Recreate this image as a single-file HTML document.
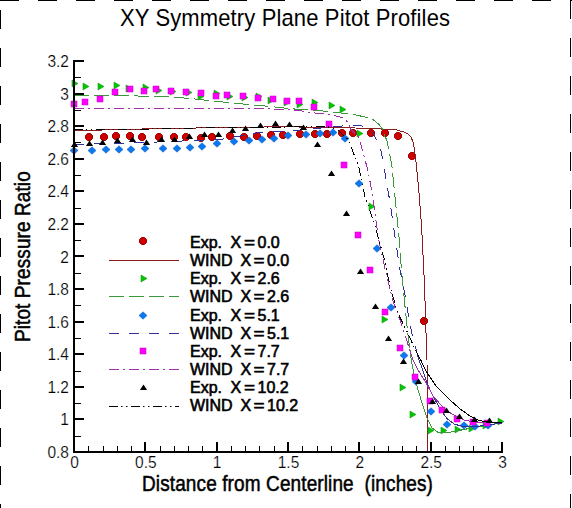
<!DOCTYPE html><html><head><meta charset="utf-8"><style>html,body{margin:0;padding:0;background:#fff;}svg{display:block;font-family:"Liberation Sans",sans-serif;}</style></head><body>
<svg width="572" height="508" viewBox="0 0 572 508">
<rect width="572" height="508" fill="#fff"/>
<g stroke="#000" stroke-width="1" fill="none">
<line x1="0" y1="0.5" x2="572" y2="0.5" stroke-dasharray="19 19"/>
<line x1="0.5" y1="10" x2="0.5" y2="508" stroke-dasharray="19 19"/>
<line x1="570.5" y1="0" x2="570.5" y2="508" stroke-dasharray="19 19"/>
</g>
<text transform="translate(120,26) scale(1,1.123)" font-size="22" letter-spacing="0.135" fill="#000">XY Symmetry Plane Pitot Profiles</text>
<text transform="translate(142,491) scale(1,1.148)" font-size="19" letter-spacing="0.12" fill="#000" stroke="#000" stroke-width="0.45" xml:space="preserve">Distance from Centerline  (inches)</text>
<text transform="translate(30,342) rotate(-90) scale(1,1.148)" font-size="19" letter-spacing="0.1" fill="#000" stroke="#000" stroke-width="0.45">Pitot Pressure Ratio</text>
<defs><clipPath id="pc"><rect x="73" y="55" width="432" height="397"/></clipPath></defs>
<polygon points="87.5,133.5 90.5,133.5 92.5,135.5 92.5,138.5 90.5,140.5 87.5,140.5 85.5,138.5 85.5,135.5" fill="#cd0000" stroke="#a00000" stroke-width="1"/>
<polygon points="102.5,133.5 105.5,133.5 107.5,135.5 107.5,138.5 105.5,140.5 102.5,140.5 100.5,138.5 100.5,135.5" fill="#cd0000" stroke="#a00000" stroke-width="1"/>
<polygon points="114.5,132.5 117.5,132.5 119.5,134.5 119.5,137.5 117.5,139.5 114.5,139.5 112.5,137.5 112.5,134.5" fill="#cd0000" stroke="#a00000" stroke-width="1"/>
<polygon points="128.5,132.5 131.5,132.5 133.5,134.5 133.5,137.5 131.5,139.5 128.5,139.5 126.5,137.5 126.5,134.5" fill="#cd0000" stroke="#a00000" stroke-width="1"/>
<polygon points="140.5,133.5 143.5,133.5 145.5,135.5 145.5,138.5 143.5,140.5 140.5,140.5 138.5,138.5 138.5,135.5" fill="#cd0000" stroke="#a00000" stroke-width="1"/>
<polygon points="157.5,133.5 160.5,133.5 162.5,135.5 162.5,138.5 160.5,140.5 157.5,140.5 155.5,138.5 155.5,135.5" fill="#cd0000" stroke="#a00000" stroke-width="1"/>
<polygon points="172.5,133.5 175.5,133.5 177.5,135.5 177.5,138.5 175.5,140.5 172.5,140.5 170.5,138.5 170.5,135.5" fill="#cd0000" stroke="#a00000" stroke-width="1"/>
<polygon points="184.5,133.5 187.5,133.5 189.5,135.5 189.5,138.5 187.5,140.5 184.5,140.5 182.5,138.5 182.5,135.5" fill="#cd0000" stroke="#a00000" stroke-width="1"/>
<polygon points="199.5,134.5 202.5,134.5 204.5,136.5 204.5,139.5 202.5,141.5 199.5,141.5 197.5,139.5 197.5,136.5" fill="#cd0000" stroke="#a00000" stroke-width="1"/>
<polygon points="210.5,133.5 213.5,133.5 215.5,135.5 215.5,138.5 213.5,140.5 210.5,140.5 208.5,138.5 208.5,135.5" fill="#cd0000" stroke="#a00000" stroke-width="1"/>
<polygon points="228.5,132.5 231.5,132.5 233.5,134.5 233.5,137.5 231.5,139.5 228.5,139.5 226.5,137.5 226.5,134.5" fill="#cd0000" stroke="#a00000" stroke-width="1"/>
<polygon points="242.5,133.5 245.5,133.5 247.5,135.5 247.5,138.5 245.5,140.5 242.5,140.5 240.5,138.5 240.5,135.5" fill="#cd0000" stroke="#a00000" stroke-width="1"/>
<polygon points="255.5,132.5 258.5,132.5 260.5,134.5 260.5,137.5 258.5,139.5 255.5,139.5 253.5,137.5 253.5,134.5" fill="#cd0000" stroke="#a00000" stroke-width="1"/>
<polygon points="269.5,131.5 272.5,131.5 274.5,133.5 274.5,136.5 272.5,138.5 269.5,138.5 267.5,136.5 267.5,133.5" fill="#cd0000" stroke="#a00000" stroke-width="1"/>
<polygon points="281.5,131.5 284.5,131.5 286.5,133.5 286.5,136.5 284.5,138.5 281.5,138.5 279.5,136.5 279.5,133.5" fill="#cd0000" stroke="#a00000" stroke-width="1"/>
<polygon points="298.5,130.5 301.5,130.5 303.5,132.5 303.5,135.5 301.5,137.5 298.5,137.5 296.5,135.5 296.5,132.5" fill="#cd0000" stroke="#a00000" stroke-width="1"/>
<polygon points="313.5,130.5 316.5,130.5 318.5,132.5 318.5,135.5 316.5,137.5 313.5,137.5 311.5,135.5 311.5,132.5" fill="#cd0000" stroke="#a00000" stroke-width="1"/>
<polygon points="325.5,130.5 328.5,130.5 330.5,132.5 330.5,135.5 328.5,137.5 325.5,137.5 323.5,135.5 323.5,132.5" fill="#cd0000" stroke="#a00000" stroke-width="1"/>
<polygon points="340.5,129.5 343.5,129.5 345.5,131.5 345.5,134.5 343.5,136.5 340.5,136.5 338.5,134.5 338.5,131.5" fill="#cd0000" stroke="#a00000" stroke-width="1"/>
<polygon points="351.5,129.5 354.5,129.5 356.5,131.5 356.5,134.5 354.5,136.5 351.5,136.5 349.5,134.5 349.5,131.5" fill="#cd0000" stroke="#a00000" stroke-width="1"/>
<polygon points="369.5,129.5 372.5,129.5 374.5,131.5 374.5,134.5 372.5,136.5 369.5,136.5 367.5,134.5 367.5,131.5" fill="#cd0000" stroke="#a00000" stroke-width="1"/>
<polygon points="383.5,129.5 386.5,129.5 388.5,131.5 388.5,134.5 386.5,136.5 383.5,136.5 381.5,134.5 381.5,131.5" fill="#cd0000" stroke="#a00000" stroke-width="1"/>
<polygon points="396.5,132.5 399.5,132.5 401.5,134.5 401.5,137.5 399.5,139.5 396.5,139.5 394.5,137.5 394.5,134.5" fill="#cd0000" stroke="#a00000" stroke-width="1"/>
<polygon points="410.5,152.5 413.5,152.5 415.5,154.5 415.5,157.5 413.5,159.5 410.5,159.5 408.5,157.5 408.5,154.5" fill="#cd0000" stroke="#a00000" stroke-width="1"/>
<polygon points="422.5,317.5 425.5,317.5 427.5,319.5 427.5,322.5 425.5,324.5 422.5,324.5 420.5,322.5 420.5,319.5" fill="#cd0000" stroke="#a00000" stroke-width="1"/>
<polyline points="74,130.5 95,130.2 150,128.8 225,127.5 280,126.8 343,127.5 370,128.6 396,129.6 400,131 404,132 408,134 411,137 413,142 414.5,150 416.3,164.5 418.7,189 421.5,225 424.5,285 426,332.9 427,360 427.3,455" stroke="#8b1c1c" fill="none" stroke-width="1" shape-rendering="crispEdges" clip-path="url(#pc)"/>
<polygon points="72,80 78,83.5 72,87" fill="#00c800" stroke="#159a15" stroke-width="0.6"/>
<polygon points="83,83 89,86.5 83,90" fill="#00c800" stroke="#159a15" stroke-width="0.6"/>
<polygon points="98,83 104,86.5 98,90" fill="#00c800" stroke="#159a15" stroke-width="0.6"/>
<polygon points="114,82 120,85.5 114,89" fill="#00c800" stroke="#159a15" stroke-width="0.6"/>
<polygon points="126,85 132,88.5 126,92" fill="#00c800" stroke="#159a15" stroke-width="0.6"/>
<polygon points="143,84 149,87.5 143,91" fill="#00c800" stroke="#159a15" stroke-width="0.6"/>
<polygon points="156,87 162,90.5 156,94" fill="#00c800" stroke="#159a15" stroke-width="0.6"/>
<polygon points="170,88 176,91.5 170,95" fill="#00c800" stroke="#159a15" stroke-width="0.6"/>
<polygon points="186,89 192,92.5 186,96" fill="#00c800" stroke="#159a15" stroke-width="0.6"/>
<polygon points="198,93 204,96.5 198,100" fill="#00c800" stroke="#159a15" stroke-width="0.6"/>
<polygon points="214,90 220,93.5 214,97" fill="#00c800" stroke="#159a15" stroke-width="0.6"/>
<polygon points="227,93 233,96.5 227,100" fill="#00c800" stroke="#159a15" stroke-width="0.6"/>
<polygon points="242,94 248,97.5 242,101" fill="#00c800" stroke="#159a15" stroke-width="0.6"/>
<polygon points="256,93 262,96.5 256,100" fill="#00c800" stroke="#159a15" stroke-width="0.6"/>
<polygon points="268,97 274,100.5 268,104" fill="#00c800" stroke="#159a15" stroke-width="0.6"/>
<polygon points="284,99 290,102.5 284,106" fill="#00c800" stroke="#159a15" stroke-width="0.6"/>
<polygon points="297,101 303,104.5 297,108" fill="#00c800" stroke="#159a15" stroke-width="0.6"/>
<polygon points="312,99 318,102.5 312,106" fill="#00c800" stroke="#159a15" stroke-width="0.6"/>
<polygon points="329,102 335,105.5 329,109" fill="#00c800" stroke="#159a15" stroke-width="0.6"/>
<polygon points="340,106 346,109.5 340,113" fill="#00c800" stroke="#159a15" stroke-width="0.6"/>
<polygon points="357,130 363,133.5 357,137" fill="#00c800" stroke="#159a15" stroke-width="0.6"/>
<polygon points="369,203 375,206.5 369,210" fill="#00c800" stroke="#159a15" stroke-width="0.6"/>
<polygon points="382,316 388,319.5 382,323" fill="#00c800" stroke="#159a15" stroke-width="0.6"/>
<polygon points="400,384 406,387.5 400,391" fill="#00c800" stroke="#159a15" stroke-width="0.6"/>
<polygon points="410,411 416,414.5 410,418" fill="#00c800" stroke="#159a15" stroke-width="0.6"/>
<polygon points="428,427 434,430.5 428,434" fill="#00c800" stroke="#159a15" stroke-width="0.6"/>
<polygon points="441,427 447,430.5 441,434" fill="#00c800" stroke="#159a15" stroke-width="0.6"/>
<polygon points="455,426 461,429.5 455,433" fill="#00c800" stroke="#159a15" stroke-width="0.6"/>
<polygon points="469,425 475,428.5 469,432" fill="#00c800" stroke="#159a15" stroke-width="0.6"/>
<polygon points="483,422 489,425.5 483,429" fill="#00c800" stroke="#159a15" stroke-width="0.6"/>
<polygon points="498,418 504,421.5 498,425" fill="#00c800" stroke="#159a15" stroke-width="0.6"/>
<polyline points="74,95.3 130,95.8 150,96.3 175,97.1 200,99.5 213,101 247.8,104.5 268.7,106.3 290,108.7 315,110.2 336,112.3 354.5,114.7 371.6,118.4 379,124.5 382.6,129.4 385,136.7 386.9,140 391.8,164.5 395.4,201.2 399.1,237.9 401.6,271.7 405.2,308.4 407.7,332.9 409.97,350" stroke="#3a9a3a" stroke-dasharray="15 5" fill="none" stroke-width="1" shape-rendering="crispEdges" clip-path="url(#pc)"/>
<polyline points="409.97,350 411.3,360 414.4,375.7 417.6,388.3 422.3,404.1 427,418.3 431.8,427.7 438.1,432.4 446,432.8 457,430.9 465,429.3 477,427 502,422.5" stroke="#3a9a3a" fill="none" stroke-width="1" shape-rendering="crispEdges" clip-path="url(#pc)"/>
<polygon points="74,146.8 78,150.5 74,154.2 70,150.5" fill="#0a78f0" stroke="#1060c0" stroke-width="0.6"/>
<polygon points="92,146.8 96,150.5 92,154.2 88,150.5" fill="#0a78f0" stroke="#1060c0" stroke-width="0.6"/>
<polygon points="106,145.8 110,149.5 106,153.2 102,149.5" fill="#0a78f0" stroke="#1060c0" stroke-width="0.6"/>
<polygon points="119,145.8 123,149.5 119,153.2 115,149.5" fill="#0a78f0" stroke="#1060c0" stroke-width="0.6"/>
<polygon points="131,145.8 135,149.5 131,153.2 127,149.5" fill="#0a78f0" stroke="#1060c0" stroke-width="0.6"/>
<polygon points="145,144.8 149,148.5 145,152.2 141,148.5" fill="#0a78f0" stroke="#1060c0" stroke-width="0.6"/>
<polygon points="163,144.8 167,148.5 163,152.2 159,148.5" fill="#0a78f0" stroke="#1060c0" stroke-width="0.6"/>
<polygon points="177,144.8 181,148.5 177,152.2 173,148.5" fill="#0a78f0" stroke="#1060c0" stroke-width="0.6"/>
<polygon points="190,143.8 194,147.5 190,151.2 186,147.5" fill="#0a78f0" stroke="#1060c0" stroke-width="0.6"/>
<polygon points="202,142.8 206,146.5 202,150.2 198,146.5" fill="#0a78f0" stroke="#1060c0" stroke-width="0.6"/>
<polygon points="217,139.8 221,143.5 217,147.2 213,143.5" fill="#0a78f0" stroke="#1060c0" stroke-width="0.6"/>
<polygon points="234,137.8 238,141.5 234,145.2 230,141.5" fill="#0a78f0" stroke="#1060c0" stroke-width="0.6"/>
<polygon points="249,136.8 253,140.5 249,144.2 245,140.5" fill="#0a78f0" stroke="#1060c0" stroke-width="0.6"/>
<polygon points="262,135.8 266,139.5 262,143.2 258,139.5" fill="#0a78f0" stroke="#1060c0" stroke-width="0.6"/>
<polygon points="274,134.8 278,138.5 274,142.2 270,138.5" fill="#0a78f0" stroke="#1060c0" stroke-width="0.6"/>
<polygon points="288,131.8 292,135.5 288,139.2 284,135.5" fill="#0a78f0" stroke="#1060c0" stroke-width="0.6"/>
<polygon points="306,130.8 310,134.5 306,138.2 302,134.5" fill="#0a78f0" stroke="#1060c0" stroke-width="0.6"/>
<polygon points="320,129.8 324,133.5 320,137.2 316,133.5" fill="#0a78f0" stroke="#1060c0" stroke-width="0.6"/>
<polygon points="333,128.8 337,132.5 333,136.2 329,132.5" fill="#0a78f0" stroke="#1060c0" stroke-width="0.6"/>
<polygon points="345,134.8 349,138.5 345,142.2 341,138.5" fill="#0a78f0" stroke="#1060c0" stroke-width="0.6"/>
<polygon points="359,179.8 363,183.5 359,187.2 355,183.5" fill="#0a78f0" stroke="#1060c0" stroke-width="0.6"/>
<polygon points="377,244.8 381,248.5 377,252.2 373,248.5" fill="#0a78f0" stroke="#1060c0" stroke-width="0.6"/>
<polygon points="391,303.8 395,307.5 391,311.2 387,307.5" fill="#0a78f0" stroke="#1060c0" stroke-width="0.6"/>
<polygon points="404,351.8 408,355.5 404,359.2 400,355.5" fill="#0a78f0" stroke="#1060c0" stroke-width="0.6"/>
<polygon points="416,377.8 420,381.5 416,385.2 412,381.5" fill="#0a78f0" stroke="#1060c0" stroke-width="0.6"/>
<polygon points="431,407.8 435,411.5 431,415.2 427,411.5" fill="#0a78f0" stroke="#1060c0" stroke-width="0.6"/>
<polygon points="447,420.8 451,424.5 447,428.2 443,424.5" fill="#0a78f0" stroke="#1060c0" stroke-width="0.6"/>
<polygon points="464,421.8 468,425.5 464,429.2 460,425.5" fill="#0a78f0" stroke="#1060c0" stroke-width="0.6"/>
<polygon points="475,422.8 479,426.5 475,430.2 471,426.5" fill="#0a78f0" stroke="#1060c0" stroke-width="0.6"/>
<polygon points="488,421.8 492,425.5 488,429.2 484,425.5" fill="#0a78f0" stroke="#1060c0" stroke-width="0.6"/>
<polyline points="74,144.4 150,142.3 220,139.5 260,132.4 290,131 347,125.5 360.6,125.7 366.7,127.5 372.8,133 376,138.7 380.8,149.8 385.7,176.7 390.6,206.1 395.4,239.9 400.3,271.7 405.2,296.2 410.1,325.6 414,342 416.22,350" stroke="#30309a" stroke-dasharray="10 10" fill="none" stroke-width="1" shape-rendering="crispEdges" clip-path="url(#pc)"/>
<polyline points="416.22,350 419,360 423.1,371 427,383 432,394 436.5,402.5 442.8,413 447.5,419 454,424 462,426.3 472,427 486.5,425.2 502,423" stroke="#30309a" fill="none" stroke-width="1" shape-rendering="crispEdges" clip-path="url(#pc)"/>
<rect x="71" y="101" width="6" height="6" fill="#ff00ff" stroke="#c000c0" stroke-width="0.5"/>
<rect x="82" y="99" width="6" height="6" fill="#ff00ff" stroke="#c000c0" stroke-width="0.5"/>
<rect x="97" y="96" width="6" height="6" fill="#ff00ff" stroke="#c000c0" stroke-width="0.5"/>
<rect x="112" y="89" width="6" height="6" fill="#ff00ff" stroke="#c000c0" stroke-width="0.5"/>
<rect x="127" y="86" width="6" height="6" fill="#ff00ff" stroke="#c000c0" stroke-width="0.5"/>
<rect x="141" y="88" width="6" height="6" fill="#ff00ff" stroke="#c000c0" stroke-width="0.5"/>
<rect x="153" y="86" width="6" height="6" fill="#ff00ff" stroke="#c000c0" stroke-width="0.5"/>
<rect x="168" y="88" width="6" height="6" fill="#ff00ff" stroke="#c000c0" stroke-width="0.5"/>
<rect x="183" y="89" width="6" height="6" fill="#ff00ff" stroke="#c000c0" stroke-width="0.5"/>
<rect x="198" y="90" width="6" height="6" fill="#ff00ff" stroke="#c000c0" stroke-width="0.5"/>
<rect x="213" y="93" width="6" height="6" fill="#ff00ff" stroke="#c000c0" stroke-width="0.5"/>
<rect x="224" y="92" width="6" height="6" fill="#ff00ff" stroke="#c000c0" stroke-width="0.5"/>
<rect x="240" y="93" width="6" height="6" fill="#ff00ff" stroke="#c000c0" stroke-width="0.5"/>
<rect x="255" y="95" width="6" height="6" fill="#ff00ff" stroke="#c000c0" stroke-width="0.5"/>
<rect x="270" y="96" width="6" height="6" fill="#ff00ff" stroke="#c000c0" stroke-width="0.5"/>
<rect x="284" y="98" width="6" height="6" fill="#ff00ff" stroke="#c000c0" stroke-width="0.5"/>
<rect x="296" y="98" width="6" height="6" fill="#ff00ff" stroke="#c000c0" stroke-width="0.5"/>
<rect x="311" y="104" width="6" height="6" fill="#ff00ff" stroke="#c000c0" stroke-width="0.5"/>
<rect x="326" y="121" width="6" height="6" fill="#ff00ff" stroke="#c000c0" stroke-width="0.5"/>
<rect x="341" y="162" width="6" height="6" fill="#ff00ff" stroke="#c000c0" stroke-width="0.5"/>
<rect x="355" y="232" width="6" height="6" fill="#ff00ff" stroke="#c000c0" stroke-width="0.5"/>
<rect x="367" y="267" width="6" height="6" fill="#ff00ff" stroke="#c000c0" stroke-width="0.5"/>
<rect x="382" y="309" width="6" height="6" fill="#ff00ff" stroke="#c000c0" stroke-width="0.5"/>
<rect x="397" y="345" width="6" height="6" fill="#ff00ff" stroke="#c000c0" stroke-width="0.5"/>
<rect x="412" y="374" width="6" height="6" fill="#ff00ff" stroke="#c000c0" stroke-width="0.5"/>
<rect x="427" y="398" width="6" height="6" fill="#ff00ff" stroke="#c000c0" stroke-width="0.5"/>
<rect x="439" y="407" width="6" height="6" fill="#ff00ff" stroke="#c000c0" stroke-width="0.5"/>
<rect x="454" y="416" width="6" height="6" fill="#ff00ff" stroke="#c000c0" stroke-width="0.5"/>
<rect x="470" y="419" width="6" height="6" fill="#ff00ff" stroke="#c000c0" stroke-width="0.5"/>
<rect x="484" y="420" width="6" height="6" fill="#ff00ff" stroke="#c000c0" stroke-width="0.5"/>
<polyline points="74,108.9 140,108.7 220,108.6 260,108.7 290,109.4 298.2,110.5 315,113 329,114.4 338.7,116.5 344.3,118.6 348.5,122.8 350.8,129.4 358.8,137.3 363.6,154.5 368.5,172.8 373.4,201.2 378.3,237.9 385.7,271.7 393,301 402.8,328 409.74,350" stroke="#a030a8" stroke-dasharray="10 4 2 4" fill="none" stroke-width="1" shape-rendering="crispEdges" clip-path="url(#pc)"/>
<polyline points="409.74,350 412.9,360 417.6,369.4 425.5,382 433.3,396.2 442.8,407.2 452.2,414.3 465,420.3 475,422 502,422.7" stroke="#a030a8" fill="none" stroke-width="1" shape-rendering="crispEdges" clip-path="url(#pc)"/>
<polygon points="74.5,141.4 78.1,147 70.9,147" fill="#000"/>
<polygon points="89.5,140.4 93.1,146 85.9,146" fill="#000"/>
<polygon points="102.5,139.4 106.1,145 98.9,145" fill="#000"/>
<polygon points="117.5,137.4 121.1,143 113.9,143" fill="#000"/>
<polygon points="132.5,136.4 136.1,142 128.9,142" fill="#000"/>
<polygon points="146.5,139.4 150.1,145 142.9,145" fill="#000"/>
<polygon points="161.5,136.4 165.1,142 157.9,142" fill="#000"/>
<polygon points="174.5,136.4 178.1,142 170.9,142" fill="#000"/>
<polygon points="189.5,133.4 193.1,139 185.9,139" fill="#000"/>
<polygon points="204.5,131.4 208.1,137 200.9,137" fill="#000"/>
<polygon points="218.5,131.4 222.1,137 214.9,137" fill="#000"/>
<polygon points="232.5,127.4 236.1,133 228.9,133" fill="#000"/>
<polygon points="245.5,125.4 249.1,131 241.9,131" fill="#000"/>
<polygon points="260.5,122.4 264.1,128 256.9,128" fill="#000"/>
<polygon points="275.5,120.4 279.1,126 271.9,126" fill="#000"/>
<polygon points="289.5,121.4 293.1,127 285.9,127" fill="#000"/>
<polygon points="303.5,124.4 307.1,130 299.9,130" fill="#000"/>
<polygon points="317.5,141.4 321.1,147 313.9,147" fill="#000"/>
<polygon points="331.5,170.4 335.1,176 327.9,176" fill="#000"/>
<polygon points="346.5,210.4 350.1,216 342.9,216" fill="#000"/>
<polygon points="360.5,268.4 364.1,274 356.9,274" fill="#000"/>
<polygon points="375.5,303.4 379.1,309 371.9,309" fill="#000"/>
<polygon points="388.5,335.4 392.1,341 384.9,341" fill="#000"/>
<polygon points="403.5,358.4 407.1,364 399.9,364" fill="#000"/>
<polygon points="418.5,378.4 422.1,384 414.9,384" fill="#000"/>
<polygon points="432.5,398.4 436.1,404 428.9,404" fill="#000"/>
<polygon points="446.5,407.4 450.1,413 442.9,413" fill="#000"/>
<polygon points="459.5,413.4 463.1,419 455.9,419" fill="#000"/>
<polygon points="474.5,416.4 478.1,422 470.9,422" fill="#000"/>
<polygon points="489.5,417.4 493.1,423 485.9,423" fill="#000"/>
<polyline points="74,129.2 150,129 225,127.3 327.8,126.8 337.3,129.4 341.6,133.7 348.4,140 355,157 358.8,166.7 361.2,179 364.9,196.3 373.4,220.8 378.3,237.9 384.4,259.5 390.6,288.8 397.9,313.3 407.7,332.9 415.44,350" stroke="#000" stroke-dasharray="9 3 1.5 3.5 1.5 3.5" fill="none" stroke-width="1" shape-rendering="crispEdges" clip-path="url(#pc)"/>
<polyline points="415.44,350 416.3,351.9 420.7,360 427,372.6 436.5,386.8 447.5,397.8 455,404.5 460.8,409.4 469.4,415.7 479,420.5 483.8,421.4 493.5,422.9 502,422.7" stroke="#000" fill="none" stroke-width="1" shape-rendering="crispEdges" clip-path="url(#pc)"/>
<g fill="#000" shape-rendering="crispEdges">
<rect x="73" y="60" width="2" height="393"/>
<rect x="73" y="451" width="430" height="2"/>
<rect x="75" y="451" width="9" height="2"/>
<rect x="75" y="436" width="6" height="1"/>
<rect x="75" y="418" width="9" height="2"/>
<rect x="75" y="403" width="6" height="1"/>
<rect x="75" y="386" width="9" height="2"/>
<rect x="75" y="371" width="6" height="1"/>
<rect x="75" y="353" width="9" height="2"/>
<rect x="75" y="338" width="6" height="1"/>
<rect x="75" y="321" width="9" height="2"/>
<rect x="75" y="305" width="6" height="1"/>
<rect x="75" y="288" width="9" height="2"/>
<rect x="75" y="273" width="6" height="1"/>
<rect x="75" y="255" width="9" height="2"/>
<rect x="75" y="240" width="6" height="1"/>
<rect x="75" y="223" width="9" height="2"/>
<rect x="75" y="208" width="6" height="1"/>
<rect x="75" y="190" width="9" height="2"/>
<rect x="75" y="175" width="6" height="1"/>
<rect x="75" y="158" width="9" height="2"/>
<rect x="75" y="142" width="6" height="1"/>
<rect x="75" y="125" width="9" height="2"/>
<rect x="75" y="110" width="6" height="1"/>
<rect x="75" y="93" width="9" height="2"/>
<rect x="75" y="77" width="6" height="1"/>
<rect x="75" y="60" width="9" height="2"/>
<rect x="88" y="446" width="1" height="5"/>
<rect x="103" y="446" width="1" height="5"/>
<rect x="117" y="446" width="1" height="5"/>
<rect x="131" y="446" width="1" height="5"/>
<rect x="144" y="442" width="2" height="9"/>
<rect x="160" y="446" width="1" height="5"/>
<rect x="174" y="446" width="1" height="5"/>
<rect x="188" y="446" width="1" height="5"/>
<rect x="202" y="446" width="1" height="5"/>
<rect x="216" y="442" width="2" height="9"/>
<rect x="231" y="446" width="1" height="5"/>
<rect x="245" y="446" width="1" height="5"/>
<rect x="259" y="446" width="1" height="5"/>
<rect x="274" y="446" width="1" height="5"/>
<rect x="287" y="442" width="2" height="9"/>
<rect x="302" y="446" width="1" height="5"/>
<rect x="317" y="446" width="1" height="5"/>
<rect x="331" y="446" width="1" height="5"/>
<rect x="345" y="446" width="1" height="5"/>
<rect x="358" y="442" width="2" height="9"/>
<rect x="374" y="446" width="1" height="5"/>
<rect x="388" y="446" width="1" height="5"/>
<rect x="402" y="446" width="1" height="5"/>
<rect x="416" y="446" width="1" height="5"/>
<rect x="430" y="442" width="2" height="9"/>
<rect x="445" y="446" width="1" height="5"/>
<rect x="459" y="446" width="1" height="5"/>
<rect x="473" y="446" width="1" height="5"/>
<rect x="488" y="446" width="1" height="5"/>
<rect x="501" y="442" width="2" height="9"/>
</g>
<g font-size="16" fill="#000" stroke="#fff" stroke-width="0.2">
<text transform="translate(69,458) scale(0.97,1)" text-anchor="end">0.8</text>
<text transform="translate(69,425.42) scale(0.97,1)" text-anchor="end">1</text>
<text transform="translate(69,392.83) scale(0.97,1)" text-anchor="end">1.2</text>
<text transform="translate(69,360.25) scale(0.97,1)" text-anchor="end">1.4</text>
<text transform="translate(69,327.67) scale(0.97,1)" text-anchor="end">1.6</text>
<text transform="translate(69,295.08) scale(0.97,1)" text-anchor="end">1.8</text>
<text transform="translate(69,262.5) scale(0.97,1)" text-anchor="end">2</text>
<text transform="translate(69,229.92) scale(0.97,1)" text-anchor="end">2.2</text>
<text transform="translate(69,197.33) scale(0.97,1)" text-anchor="end">2.4</text>
<text transform="translate(69,164.75) scale(0.97,1)" text-anchor="end">2.6</text>
<text transform="translate(69,132.17) scale(0.97,1)" text-anchor="end">2.8</text>
<text transform="translate(69,99.58) scale(0.97,1)" text-anchor="end">3</text>
<text transform="translate(69,67) scale(0.97,1)" text-anchor="end">3.2</text>
<text transform="translate(74.5,468) scale(0.97,1)" text-anchor="middle">0</text>
<text transform="translate(145.83,468) scale(0.97,1)" text-anchor="middle">0.5</text>
<text transform="translate(217.17,468) scale(0.97,1)" text-anchor="middle">1</text>
<text transform="translate(288.5,468) scale(0.97,1)" text-anchor="middle">1.5</text>
<text transform="translate(359.83,468) scale(0.97,1)" text-anchor="middle">2</text>
<text transform="translate(431.17,468) scale(0.97,1)" text-anchor="middle">2.5</text>
<text transform="translate(502.5,468) scale(0.97,1)" text-anchor="middle">3</text>
</g>
<polygon points="141.5,237.5 144.5,237.5 146.5,239.5 146.5,242.5 144.5,244.5 141.5,244.5 139.5,242.5 139.5,239.5" fill="#cd0000" stroke="#a00000" stroke-width="1"/>
<line x1="109" y1="260.5" x2="179" y2="260.5" stroke="#8b1c1c" stroke-width="1"/>
<polygon points="141,275 147,278.5 141,282" fill="#00c800" stroke="#159a15" stroke-width="0.6"/>
<line x1="109" y1="296.5" x2="179" y2="296.5" stroke="#3a9a3a" stroke-width="1" stroke-dasharray="15 5"/>
<polygon points="143,311.8 147,315.5 143,319.2 139,315.5" fill="#0a78f0" stroke="#1060c0" stroke-width="0.6"/>
<line x1="109" y1="333.5" x2="179" y2="333.5" stroke="#30309a" stroke-width="1" stroke-dasharray="10 10"/>
<rect x="140" y="348" width="6" height="6" fill="#ff00ff" stroke="#c000c0" stroke-width="0.5"/>
<line x1="109" y1="369.5" x2="179" y2="369.5" stroke="#a030a8" stroke-width="1" stroke-dasharray="10 4 2 4"/>
<polygon points="143.5,384.4 147.1,390 139.9,390" fill="#000"/>
<line x1="109" y1="406.5" x2="179" y2="406.5" stroke="#000" stroke-width="1" stroke-dasharray="9 3 1.5 3.5 1.5 3.5"/>
<g font-size="16" fill="#000" stroke="#000" stroke-width="0.6">
<text x="190" y="248">Exp.</text><text x="230.5" y="248">X</text><text transform="translate(244,248) scale(1.18,1)">=</text><text x="257.5" y="248">0.0</text>
<text x="190" y="266.15">WIND</text><text x="240.5" y="266.15">X</text><text transform="translate(253.5,266.15) scale(1.18,1)">=</text><text x="267" y="266.15">0.0</text>
<text x="190" y="284.3">Exp.</text><text x="230.5" y="284.3">X</text><text transform="translate(244,284.3) scale(1.18,1)">=</text><text x="257.5" y="284.3">2.6</text>
<text x="190" y="302.45">WIND</text><text x="240.5" y="302.45">X</text><text transform="translate(253.5,302.45) scale(1.18,1)">=</text><text x="267" y="302.45">2.6</text>
<text x="190" y="320.6">Exp.</text><text x="230.5" y="320.6">X</text><text transform="translate(244,320.6) scale(1.18,1)">=</text><text x="257.5" y="320.6">5.1</text>
<text x="190" y="338.75">WIND</text><text x="240.5" y="338.75">X</text><text transform="translate(253.5,338.75) scale(1.18,1)">=</text><text x="267" y="338.75">5.1</text>
<text x="190" y="356.9">Exp.</text><text x="230.5" y="356.9">X</text><text transform="translate(244,356.9) scale(1.18,1)">=</text><text x="257.5" y="356.9">7.7</text>
<text x="190" y="375.05">WIND</text><text x="240.5" y="375.05">X</text><text transform="translate(253.5,375.05) scale(1.18,1)">=</text><text x="267" y="375.05">7.7</text>
<text x="190" y="393.2">Exp.</text><text x="230.5" y="393.2">X</text><text transform="translate(244,393.2) scale(1.18,1)">=</text><text x="257.5" y="393.2">10.2</text>
<text x="190" y="411.35">WIND</text><text x="240.5" y="411.35">X</text><text transform="translate(253.5,411.35) scale(1.18,1)">=</text><text x="267" y="411.35">10.2</text>
</g>
</svg></body></html>
